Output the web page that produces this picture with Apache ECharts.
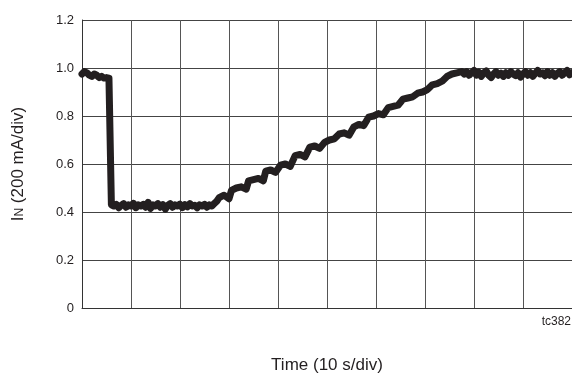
<!DOCTYPE html>
<html>
<head>
<meta charset="utf-8">
<script src="https://cdn.jsdelivr.net/npm/echarts@6/dist/echarts.min.js"></script>
<style>html,body{margin:0;padding:0;background:#fff}#c{width:572px;height:379px}</style>
</head>
<body>
<div id="c"></div>
<script>
// time in seconds (10 s/div), current in A
const timeS = [0,0.5,1,1.5,2,2.5,3,3.5,4,4.5,5,5.5,5.8,6.0,
  6.5,7,7.5,8,8.5,9,9.5,10,10.5,11,11.5,12,12.5,13,13.5,14,14.5,15,15.5,16,16.5,17,17.5,18,18.5,19,19.5,20,20.5,21,21.5,22,22.5,23,23.5,24,24.5,25,25.5,26,26.5,27,
  27.5,28,29,30,30.5,31.5,32.5,33.5,34,35,36,37,37.5,38.5,39.5,40.5,41.5,42.5,43.5,44.5,45.5,46.5,47.5,48.5,49.5,50.5,51.5,52.5,53.5,54.5,55.5,56.5,57.5,58.5,59.5,60.5,61.5,62.5,63.5,64.5,65.5,66.5,67.5,68.5,69.5,70.5,71.5,72.5,73.5,74.5,75.5,76.5,77.5,
  78,78.5,79,79.5,80,80.5,81,81.5,82,82.5,83,83.5,84,84.5,85,85.5,86,86.5,87,87.5,88,88.5,89,89.5,90,90.5,91,91.5,92,92.5,93,93.5,94,94.5,95,95.5,96,96.5,97,97.5,98,98.5,99,99.5,100];
const currentA = [0.975,0.985,0.98,0.97,0.965,0.975,0.97,0.96,0.965,0.958,0.96,0.958,0.96,0.43,
  0.425,0.432,0.418,0.428,0.435,0.42,0.43,0.425,0.436,0.418,0.43,0.425,0.432,0.42,0.44,0.415,0.43,0.425,0.435,0.42,0.43,0.412,0.428,0.435,0.42,0.43,0.425,0.433,0.418,0.43,0.422,0.435,0.425,0.428,0.418,0.43,0.425,0.432,0.42,0.43,0.425,0.435,
  0.445,0.46,0.47,0.455,0.49,0.50,0.505,0.495,0.53,0.535,0.54,0.53,0.57,0.575,0.565,0.595,0.60,0.59,0.635,0.64,0.63,0.67,0.675,0.665,0.69,0.70,0.705,0.725,0.73,0.72,0.755,0.765,0.76,0.795,0.80,0.81,0.805,0.835,0.84,0.845,0.87,0.875,0.88,0.895,0.90,0.91,0.93,0.935,0.945,0.965,0.975,0.98,0.985,
  0.975,0.985,0.97,0.98,0.99,0.97,0.982,0.965,0.98,0.988,0.97,0.96,0.975,0.985,0.97,0.978,0.965,0.98,0.97,0.985,0.975,0.968,0.98,0.962,0.975,0.985,0.97,0.98,0.965,0.978,0.99,0.975,0.98,0.968,0.985,0.97,0.98,0.965,0.978,0.985,0.97,0.98,0.99,0.972,0.98];
const yTicks = [0,0.2,0.4,0.6,0.8,1.0,1.2];

const data = timeS.map((t,i)=>[t,currentA[i]]);
const FONT = '"Liberation Sans Narrow","Liberation Sans",Arial,sans-serif';
const chart = echarts.init(document.getElementById('c'));
chart.setOption({
  animation:false,
  backgroundColor:'#fff',
  grid:{left:82,top:20,width:492,height:292,containLabel:false},
  xAxis:{type:'value',min:0,max:100,interval:10,
    name:'Time (10 s/div)',nameLocation:'middle',nameGap:49,
    nameTextStyle:{fontFamily:FONT,fontSize:17,color:'#231f20'},
    axisLine:{show:true,lineStyle:{color:'#333',width:1}},
    axisTick:{show:false},axisLabel:{show:false},
    splitLine:{show:true,lineStyle:{color:'#555',width:1}}},
  yAxis:{type:'value',min:0,max:1.2,interval:0.2,
    name:'{i|I}{n|N}{t| (200 mA/div)}',nameLocation:'middle',nameRotate:90,nameGap:55,
    nameTextStyle:{fontFamily:FONT,color:'#231f20',
      rich:{i:{fontFamily:FONT,fontSize:17,color:'#231f20'},n:{fontFamily:FONT,fontSize:12,color:'#231f20',verticalAlign:'bottom',padding:[0,0,1,0]},t:{fontFamily:FONT,fontSize:17,color:'#231f20'}}},
    axisLine:{show:true,lineStyle:{color:'#333',width:1}},
    axisTick:{show:false},
    axisLabel:{margin:8,fontFamily:FONT,fontSize:13,color:'#231f20',
      formatter:v=>{const t=yTicks.find(y=>Math.abs(y-v)<1e-9);return t===0?'0':(t!==undefined?t.toFixed(1):v.toFixed(1));}},
    splitLine:{show:true,lineStyle:{color:'#444',width:1}}},
  graphic:[{type:'text',right:1,top:316,style:{text:'tc382',fontFamily:FONT,fontSize:12,fill:'#231f20'}}],
  series:[{type:'line',data:data,symbol:'none',smooth:false,
    lineStyle:{color:'#231f20',width:7,join:'round',cap:'round'}}]
});
</script>
</body>
</html>
